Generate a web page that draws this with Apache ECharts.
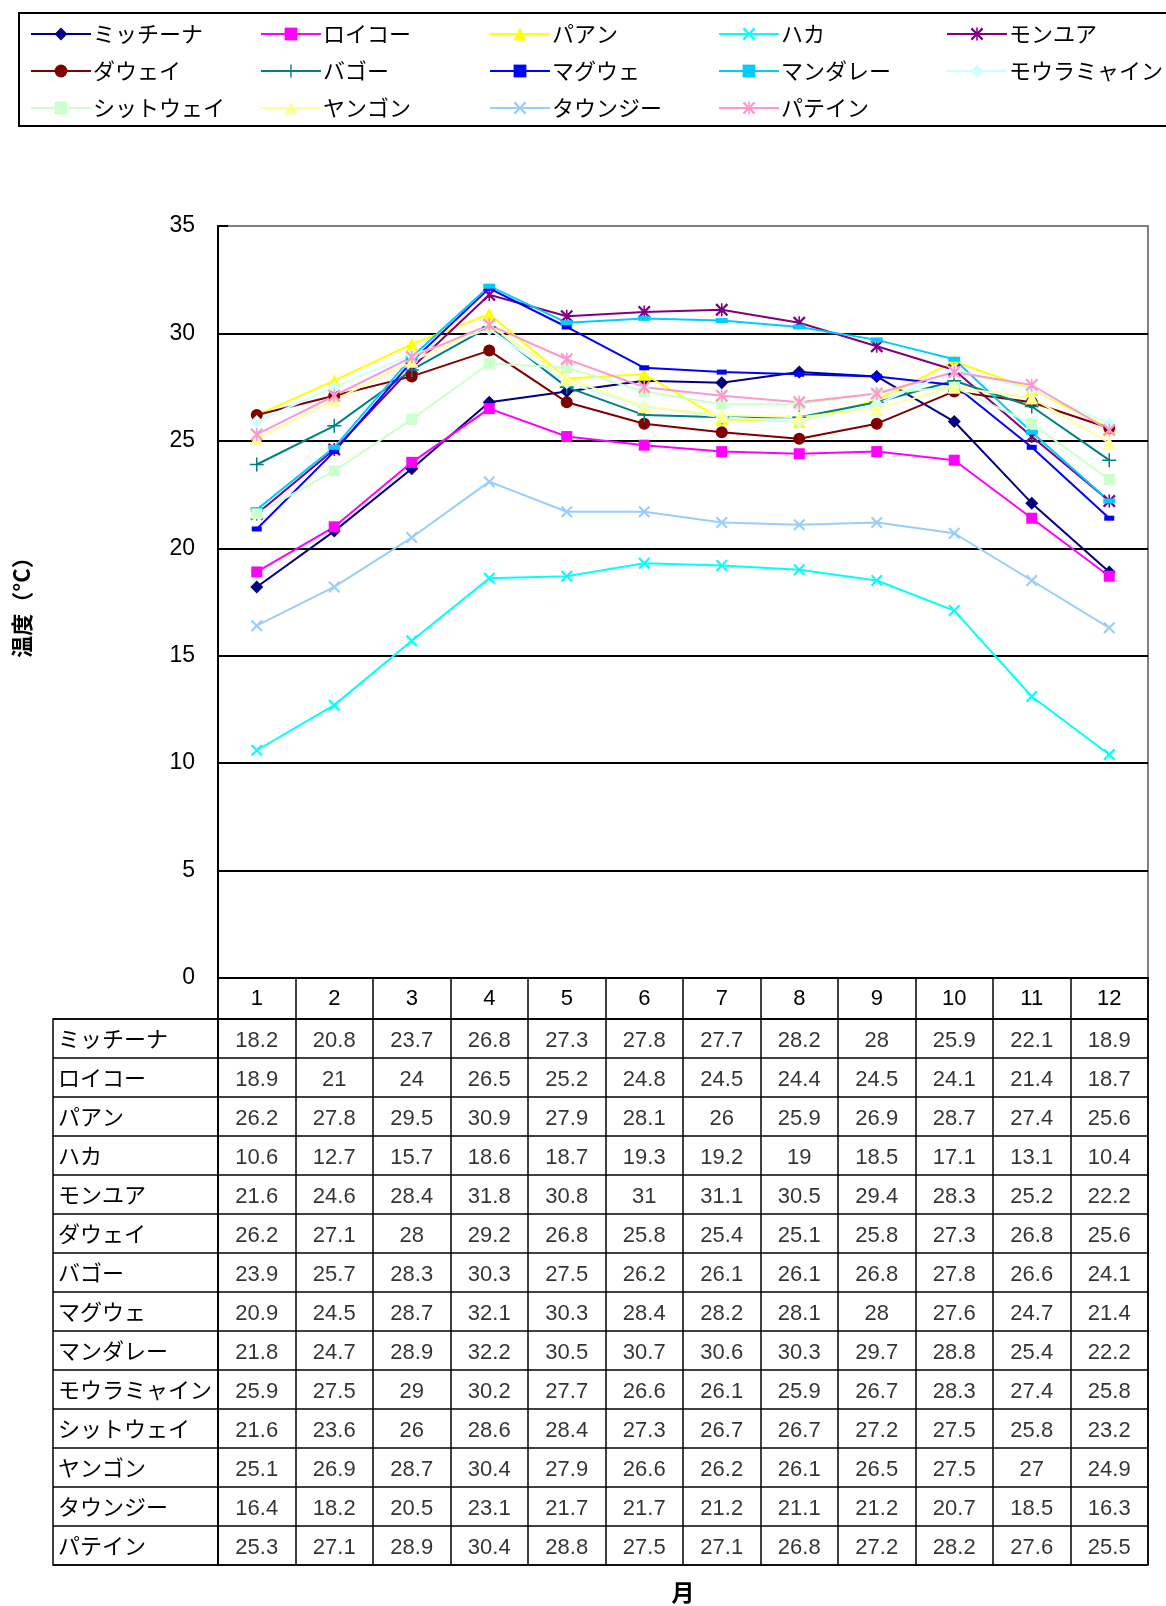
<!DOCTYPE html>
<html>
<head>
<meta charset="utf-8">
<script src="https://cdn.jsdelivr.net/npm/echarts@6/dist/echarts.min.js"></script>
<style>
html,body{margin:0;padding:0;background:#fff;}
#chart{width:1166px;height:1606px;}
</style>
</head>
<body>
<div id="chart"></div>
<script>
// ---- data ----
var months = ['1','2','3','4','5','6','7','8','9','10','11','12'];
var yTicks = [0, 35, 5];
var cities = ['ミッチーナ','ロイコー','パアン','ハカ','モンユア','ダウェイ','バゴー','マグウェ','マンダレー','モウラミャイン','シットウェイ','ヤンゴン','タウンジー','パテイン'];
var myitkyina   = [18.2,20.8,23.7,26.8,27.3,27.8,27.7,28.2,28,25.9,22.1,18.9];
var loikaw      = [18.9,21,24,26.5,25.2,24.8,24.5,24.4,24.5,24.1,21.4,18.7];
var paan        = [26.2,27.8,29.5,30.9,27.9,28.1,26,25.9,26.9,28.7,27.4,25.6];
var hakha       = [10.6,12.7,15.7,18.6,18.7,19.3,19.2,19,18.5,17.1,13.1,10.4];
var monywa      = [21.6,24.6,28.4,31.8,30.8,31,31.1,30.5,29.4,28.3,25.2,22.2];
var dawei       = [26.2,27.1,28,29.2,26.8,25.8,25.4,25.1,25.8,27.3,26.8,25.6];
var bago        = [23.9,25.7,28.3,30.3,27.5,26.2,26.1,26.1,26.8,27.8,26.6,24.1];
var magway      = [20.9,24.5,28.7,32.1,30.3,28.4,28.2,28.1,28,27.6,24.7,21.4];
var mandalay    = [21.8,24.7,28.9,32.2,30.5,30.7,30.6,30.3,29.7,28.8,25.4,22.2];
var mawlamyine  = [25.9,27.5,29,30.2,27.7,26.6,26.1,25.9,26.7,28.3,27.4,25.8];
var sittwe      = [21.6,23.6,26,28.6,28.4,27.3,26.7,26.7,27.2,27.5,25.8,23.2];
var yangon      = [25.1,26.9,28.7,30.4,27.9,26.6,26.2,26.1,26.5,27.5,27,24.9];
var taunggyi    = [16.4,18.2,20.5,23.1,21.7,21.7,21.2,21.1,21.2,20.7,18.5,16.3];
var pathein     = [25.3,27.1,28.9,30.4,28.8,27.5,27.1,26.8,27.2,28.2,27.6,25.5];
var values = [myitkyina,loikaw,paan,hakha,monywa,dawei,bago,magway,mandalay,mawlamyine,sittwe,yangon,taunggyi,pathein];

// ---- styles ----
var colors = ['#000080','#FF00FF','#FFFF00','#00FFFF','#800080','#800000','#008080','#0000FF','#00CCFF','#CCFFFF','#CCFFCC','#FFFF99','#99CCFF','#FF99CC'];
var X_PATH = 'path://M0,2.5 L2.5,0 L10,7.5 L17.5,0 L20,2.5 L12.5,10 L20,17.5 L17.5,20 L10,12.5 L2.5,20 L0,17.5 L7.5,10 Z';
var STAR_PATH = 'path://M0,2.5 L2.5,0 L10,7.5 L17.5,0 L20,2.5 L12.5,10 L20,17.5 L17.5,20 L10,12.5 L2.5,20 L0,17.5 L7.5,10 Z M8.8,0 L11.2,0 L11.2,20 L8.8,20 Z';
var PLUS_PATH = 'path://M8.9,0 L11.1,0 L11.1,8.9 L20,8.9 L20,11.1 L11.1,11.1 L11.1,20 L8.9,20 L8.9,11.1 L0,11.1 L0,8.9 L8.9,8.9 Z';
var symbols = ['diamond','rect','triangle',X_PATH,STAR_PATH,'circle',PLUS_PATH,'rect','rect','diamond','rect','triangle',X_PATH,STAR_PATH];
var symbolSizes = [13,11,13,12,13,12,14,[10,5],[12,5],13,11,13,12,13];

var JP = '"Noto Sans CJK JP", sans-serif';
var NUM = '"Liberation Sans", Arial, sans-serif';

var series = cities.map(function(c, i){
  return {
    name: c, type: 'line', xAxisIndex: 0, yAxisIndex: 0,
    data: values[i], symbol: symbols[i], symbolSize: symbolSizes[i],
    showAllSymbol: true, animation: false,
    lineStyle: {color: colors[i], width: 2},
    itemStyle: {color: colors[i]},
    emphasis: {disabled: true}
  };
});

var tableData = [];
values.forEach(function(row, i){
  row.forEach(function(v, j){ tableData.push([j, i, v]); });
});
series.push({
  type: 'scatter', xAxisIndex: 1, yAxisIndex: 1, data: tableData,
  symbolSize: 1, itemStyle: {color: 'rgba(0,0,0,0)'}, silent: true, animation: false,
  label: {show: true, position: 'inside', offset: [0, 2], color: '#000', fontSize: 22, fontFamily: NUM,
    formatter: function(p){ return String(p.value[2]); }}
});

var legendCols = [[0,5,10],[1,6,11],[2,7,12],[3,8,13],[4,9]];
var legendLeft = [30, 260, 489, 718, 946];
var legends = legendCols.map(function(col, k){
  return {
    orient: 'vertical', left: legendLeft[k], top: 23, padding: 0,
    itemWidth: 60, itemHeight: 16, itemGap: 15, selectedMode: false,
    data: col.map(function(i){ return cities[i]; }),
    textStyle: {fontSize: 22, fontFamily: JP, color: '#000', padding: [0,0,0,-3]}
  };
});

var splitColors = ['#000','#000','#000','#000','#000','#000','#000','#808080'];

var option = {
  backgroundColor: '#fff',
  animation: false,
  legend: legends,
  graphic: [{type: 'rect', shape: {x: 19, y: 13, width: 1160, height: 113},
    style: {fill: 'none', stroke: '#000', lineWidth: 2}, silent: true}],
  grid: [
    {left: 218, right: 18, top: 226, height: 752, show: true, borderColor: '#808080', borderWidth: 2, backgroundColor: '#fff', outerBoundsMode: 'none', containLabel: false},
    {left: 218, right: 18, top: 1019, height: 546, show: true, borderColor: '#000', borderWidth: 1.5, outerBoundsMode: 'none', containLabel: false},
    {left: 53, width: 165, top: 1019, height: 546, show: true, borderColor: '#000', borderWidth: 1.5, outerBoundsMode: 'none', containLabel: false},
    {left: 218, right: 18, top: 978, height: 41, show: true, borderColor: '#000', borderWidth: 1.5, outerBoundsMode: 'none', containLabel: false}
  ],
  xAxis: [
    {gridIndex: 0, type: 'category', data: months, boundaryGap: true,
      axisLine: {lineStyle: {color: '#000', width: 2}}, axisTick: {show: false},
      axisLabel: {interval: 0, margin: 10, fontSize: 22, fontFamily: NUM, color: '#000'},
      splitLine: {show: false}},
    {gridIndex: 1, type: 'category', data: months, boundaryGap: true,
      axisLine: {show: false}, axisTick: {show: false}, axisLabel: {show: false, interval: 0},
      splitLine: {show: true, interval: 0, lineStyle: {color: '#000', width: 1.5}},
      name: '月', nameLocation: 'middle', nameGap: 16,
      nameTextStyle: {fontSize: 23, fontFamily: JP, color: '#000', fontWeight: 'bold'}},
    {gridIndex: 2, type: 'value', min: 0, max: 1, show: false},
    {gridIndex: 3, type: 'category', data: months, boundaryGap: true,
      axisLine: {show: false}, axisTick: {show: false}, axisLabel: {show: false, interval: 0},
      splitLine: {show: true, interval: 0, lineStyle: {color: '#000', width: 1.5}}}
  ],
  yAxis: [
    {gridIndex: 0, type: 'value', min: yTicks[0], max: yTicks[1], interval: yTicks[2],
      axisLine: {show: true, lineStyle: {color: '#000', width: 2}},
      axisTick: {show: true, inside: true, length: 10, lineStyle: {color: '#000', width: 2}},
      axisLabel: {margin: 23, fontSize: 23, fontFamily: NUM, color: '#000'},
      splitLine: {show: true, lineStyle: {color: splitColors, width: 2}},
      name: '温度（°C）', nameLocation: 'middle', nameGap: 185, nameRotate: 90,
      nameTextStyle: {fontSize: 22, fontFamily: JP, color: '#000', fontWeight: 'bold'}},
    {gridIndex: 1, type: 'category', data: cities, inverse: true, boundaryGap: true,
      axisLine: {show: false}, axisTick: {show: false}, axisLabel: {show: false, interval: 0},
      splitLine: {show: true, interval: 0, lineStyle: {color: '#000', width: 1.5}}},
    {gridIndex: 2, type: 'category', data: cities, inverse: true, boundaryGap: true,
      axisLine: {show: false}, axisTick: {show: false},
      axisLabel: {show: true, inside: true, interval: 0, margin: 5, fontSize: 22, fontFamily: JP, color: '#000', align: 'left', padding: [5,0,0,0]},
      splitLine: {show: true, interval: 0, lineStyle: {color: '#000', width: 1.5}}},
    {gridIndex: 3, type: 'value', min: 0, max: 1, show: false}
  ],
  series: series
};

var chart = echarts.init(document.getElementById('chart'), null, {renderer: 'canvas'});
chart.setOption(option);
</script>
</body>
</html>
